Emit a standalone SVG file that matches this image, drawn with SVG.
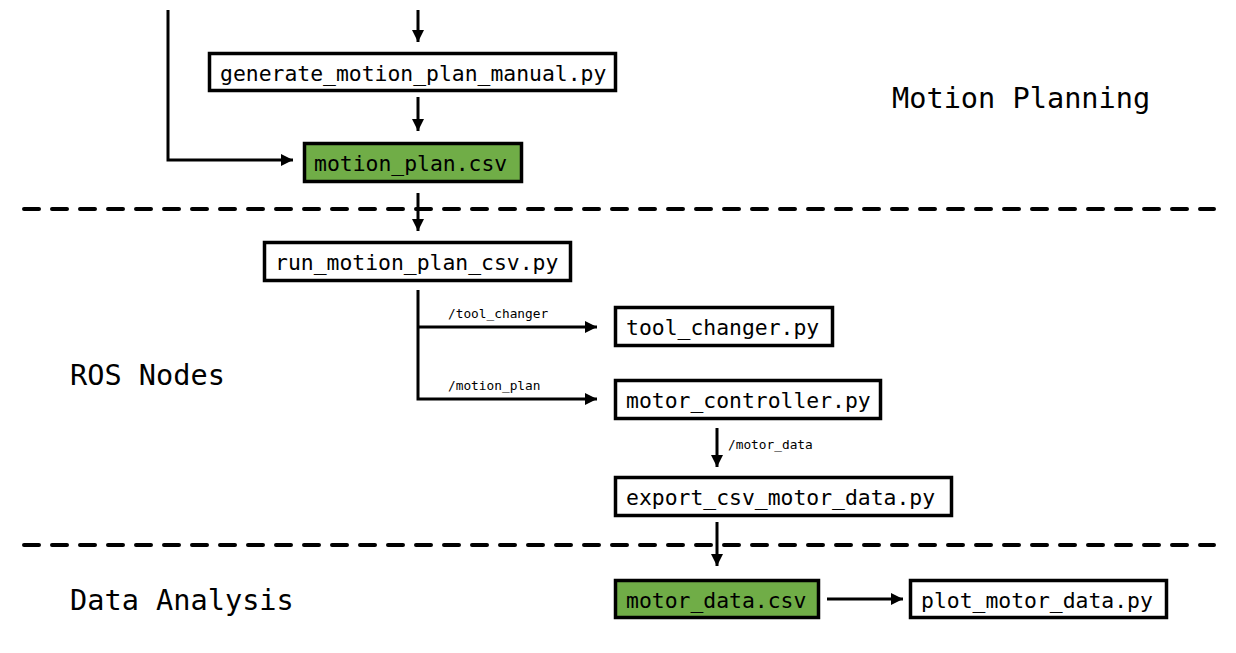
<svg xmlns="http://www.w3.org/2000/svg" width="1236" height="653" viewBox="0 0 1236 653">
<style>
.box{fill:#fff;stroke:#000;stroke-width:3.5}
.csv{fill:#70ad47;stroke:#000;stroke-width:3.5}
.t{font-family:"DejaVu Sans Mono","Liberation Mono",monospace;font-size:21.4px;fill:#000}
.lbl{font-family:"DejaVu Sans Mono","Liberation Mono",monospace;font-size:12.8px;fill:#000}
.sec{font-family:"DejaVu Sans Mono","Liberation Mono",monospace;font-size:28.6px;fill:#000}
.c{fill:none;stroke:#000;stroke-width:3}
.dash{fill:none;stroke:#000;stroke-width:4;stroke-dasharray:15 13;stroke-linecap:round}
</style>
<defs>
<marker id="ah" markerUnits="userSpaceOnUse" markerWidth="13" markerHeight="13" refX="12" refY="6" orient="auto">
<path d="M0,0 L12,6 L0,12 z" fill="#000"/>
</marker>
</defs>
<rect width="1236" height="653" fill="#fff"/>
<g id="separators">
<line class="dash" x1="24" y1="209" x2="1214" y2="209"/>
<line class="dash" x1="24" y1="545" x2="1214" y2="545"/>
</g>
<g id="section-labels">
<text class="sec" x="892" y="108">Motion Planning</text>
<text class="sec" x="70" y="385">ROS Nodes</text>
<text class="sec" x="70" y="610">Data Analysis</text>
</g>
<g id="connectors">
<line class="c" x1="418" y1="10" x2="418" y2="42" marker-end="url(#ah)"/>
<line class="c" x1="418" y1="97" x2="418" y2="131" marker-end="url(#ah)"/>
<polyline class="c" points="168,10 168,160 293,160" marker-end="url(#ah)"/>
<line class="c" x1="418" y1="193" x2="418" y2="231" marker-end="url(#ah)"/>
<polyline class="c" points="418,290 418,399 597,399" marker-end="url(#ah)"/>
<line class="c" x1="418" y1="327" x2="597" y2="327" marker-end="url(#ah)"/>
<line class="c" x1="717" y1="428" x2="717" y2="467" marker-end="url(#ah)"/>
<line class="c" x1="717" y1="522" x2="717" y2="566" marker-end="url(#ah)"/>
<line class="c" x1="827" y1="599" x2="903" y2="599" marker-end="url(#ah)"/>
<text class="lbl" x="448" y="318">/tool_changer</text>
<text class="lbl" x="448" y="390">/motion_plan</text>
<text class="lbl" x="728" y="449">/motor_data</text>
</g>
<g id="generate_motion_plan_manual">
<rect class="box" x="209.5" y="53.5" width="406" height="37"/>
<text class="t" x="220" y="81">generate_motion_plan_manual.py</text>
</g>
<g id="motion_plan_csv">
<rect class="csv" x="304.5" y="143.5" width="217" height="38"/>
<text class="t" x="314" y="171">motion_plan.csv</text>
</g>
<g id="run_motion_plan_csv">
<rect class="box" x="264.5" y="242.5" width="306" height="38"/>
<text class="t" x="275" y="270">run_motion_plan_csv.py</text>
</g>
<g id="tool_changer">
<rect class="box" x="615.5" y="307.5" width="217" height="38"/>
<text class="t" x="626" y="335">tool_changer.py</text>
</g>
<g id="motor_controller">
<rect class="box" x="615.5" y="380.5" width="265" height="38"/>
<text class="t" x="626" y="408">motor_controller.py</text>
</g>
<g id="export_csv_motor_data">
<rect class="box" x="615.5" y="477.5" width="336" height="38"/>
<text class="t" x="626" y="505">export_csv_motor_data.py</text>
</g>
<g id="motor_data_csv">
<rect class="csv" x="615.5" y="580.5" width="203" height="37"/>
<text class="t" x="626" y="608">motor_data.csv</text>
</g>
<g id="plot_motor_data">
<rect class="box" x="910.5" y="580.5" width="256" height="37"/>
<text class="t" x="921" y="608">plot_motor_data.py</text>
</g>
</svg>
